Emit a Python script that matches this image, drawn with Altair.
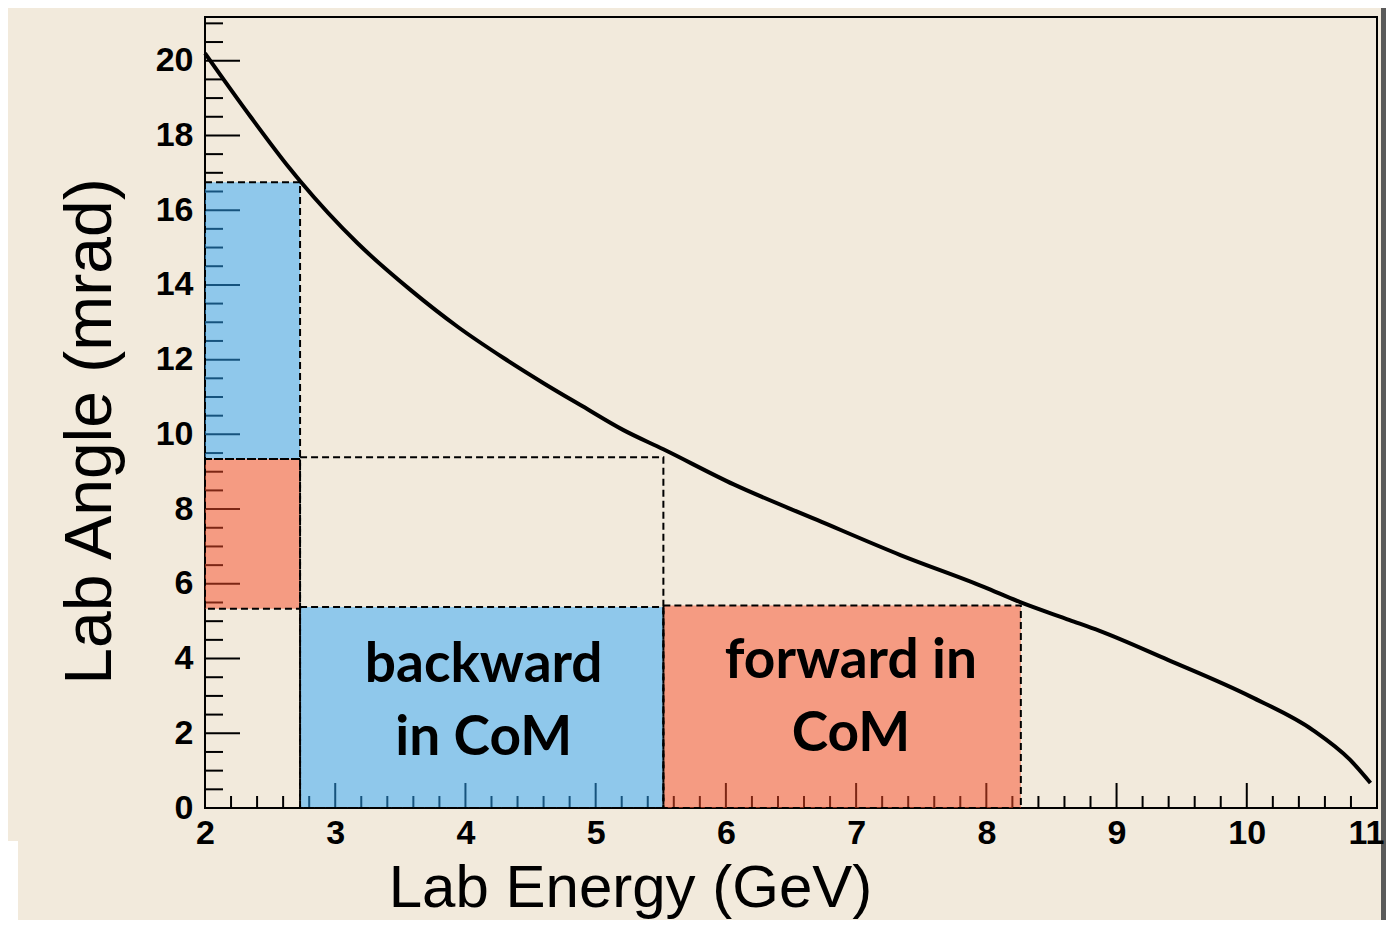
import altair as alt
import pandas as pd

# ---- curve ----
energy = [2.0, 2.35, 2.65, 2.73, 3.17, 3.58, 3.94, 4.29, 4.6, 4.9, 5.21, 5.52,
          6.06, 6.7, 7.34, 7.98, 8.26, 8.64, 8.87, 9.39, 10.03, 10.51, 10.79, 10.95]
angle = [20.2, 18.5, 17.12, 16.78, 15.12, 13.86, 12.88, 12.05, 11.37, 10.75, 10.12, 9.6,
         8.66, 7.71, 6.77, 5.92, 5.51, 5.03, 4.74, 3.97, 2.98, 2.08, 1.3, 0.67]

# ---- shaded regions ----
reg_x0 = [2.0, 2.0, 2.73, 5.52]
reg_x1 = [2.73, 2.73, 5.52, 8.265]
reg_y0 = [9.34, 5.33, 0.0, 0.0]
reg_y1 = [16.75, 9.34, 5.38, 5.42]
reg_col = ["#2CA6FA", "#F84C28", "#2CA6FA", "#F84C28"]

# dashed outline of the unfilled box
box_x0 = [2.73]
box_x1 = [5.52]
box_y0 = [0.0]
box_y1 = [9.39]

# ---- texts ----
lab_text = ["backward\nin CoM", "forward in\nCoM"]
lab_x = [4.14, 6.96]
lab_y = [3.37, 3.49]

# ---- axis ticks ----
x_major = list(range(2, 12))
x_minor = [round(2 + 0.2 * i, 1) for i in range(46) if i % 5 != 0]
y_major = list(range(0, 21, 2))
y_minor = [v / 2 for v in range(0, 43) if v % 4 != 0]

W, H = 1172, 791
XD = [2, 11]
YD = [0, 21.17]
FONT = "Liberation Sans"

xs = alt.Scale(domain=XD, nice=False, zero=False)
ys = alt.Scale(domain=YD, nice=False, zero=False)

X_AX = alt.Axis(
    values=x_major, format="d", ticks=False, domain=False, grid=False, zindex=1,
    labelFont=FONT, labelFontWeight="bold", labelFontSize=34, labelColor="black",
    labelPadding=8, labelFlush=False, labelOverlap=False, labelBound=False,
    labelOffset={"condition": {"test": "datum.value == 11", "value": -11}, "value": 0},
    title="Lab Energy (GeV)", titleFont=FONT,
    titleFontWeight="normal", titleFontSize=60, titleColor="black",
    titleX=425, titleY=98, titleAlign="center", titleBaseline="alphabetic")
Y_AX = alt.Axis(
    values=y_major, format="d", ticks=False, domain=False, grid=False,
    labelFont=FONT, labelFontWeight="bold", labelFontSize=34, labelColor="black",
    labelPadding=12, labelFlush=False, labelOverlap=False, labelBound=False,
    title="Lab Angle (mrad)", titleFont=FONT,
    titleFontWeight="normal", titleFontSize=66, titleColor="black",
    titleAngle=270, titleX=-95, titleY=414, titleAlign="center",
    titleBaseline="alphabetic")


def X(f):
    return alt.X(f, scale=xs, axis=X_AX)


def Y(f):
    return alt.Y(f, scale=ys, axis=Y_AX)


curve_df = pd.DataFrame({"E": energy, "A": angle})
reg_df = pd.DataFrame({"x0": reg_x0, "x1": reg_x1, "y0": reg_y0, "y1": reg_y1, "c": reg_col})
box_df = pd.DataFrame({"x0": reg_x0 + box_x0, "x1": reg_x1 + box_x1,
                       "y0": reg_y0 + box_y0, "y1": reg_y1 + box_y1})
lab_df = pd.DataFrame({"t": lab_text, "x": lab_x, "y": lab_y})

xmaj_df = pd.DataFrame({"v": x_major})
xmin_df = pd.DataFrame({"v": x_minor})
ymaj_df = pd.DataFrame({"v": y_major})
ymin_df = pd.DataFrame({"v": y_minor})

xtick_maj = alt.Chart(xmaj_df).mark_rule(color="black", strokeWidth=2).encode(
    x=X("v:Q"), y=alt.value(H), y2=alt.value(H - 25))
xtick_min = alt.Chart(xmin_df).mark_rule(color="black", strokeWidth=2).encode(
    x=X("v:Q"), y=alt.value(H), y2=alt.value(H - 12))
ytick_maj = alt.Chart(ymaj_df).mark_rule(color="black", strokeWidth=2).encode(
    y=Y("v:Q"), x=alt.value(0), x2=alt.value(35))
ytick_min = alt.Chart(ymin_df).mark_rule(color="black", strokeWidth=2).encode(
    y=Y("v:Q"), x=alt.value(0), x2=alt.value(18))

regions = alt.Chart(reg_df).mark_rect(fillOpacity=0.5, strokeWidth=0).encode(
    x=X("x0:Q"), x2="x1:Q", y=Y("y0:Q"), y2="y1:Q",
    fill=alt.Fill("c:N", scale=None))

outlines = alt.Chart(box_df).mark_rect(filled=False, stroke="black", strokeWidth=2,
                                       strokeDash=[7, 4]).encode(
    x=X("x0:Q"), x2="x1:Q", y=Y("y0:Q"), y2="y1:Q")

curve = alt.Chart(curve_df).mark_line(color="black", strokeWidth=4,
                                      interpolate="monotone").encode(
    x=X("E:Q"), y=Y("A:Q"))

labels = alt.Chart(lab_df).mark_text(font="Lato", fontWeight="bold", fontSize=55,
                                     lineBreak="\n", lineHeight=73, align="center",
                                     baseline="alphabetic", color="black").encode(
    x=X("x:Q"), y=Y("y:Q"), text="t:N")

# decorative edges of the original screenshot
BOT = 112
RIGHT = 9
edge_df = pd.DataFrame({"k": ["strip"]})
strip = alt.Chart(edge_df).mark_rect(color="#5a5a5a").encode(
    x=alt.value(W + 4), x2=alt.value(W + RIGHT), y=alt.value(-9), y2=alt.value(H + BOT))
corner = alt.Chart(edge_df).mark_rect(color="white").encode(
    x=alt.value(-197), x2=alt.value(-187), y=alt.value(H + 33), y2=alt.value(H + BOT))

chart = alt.layer(
    xtick_maj, xtick_min, ytick_maj, ytick_min, regions, outlines, curve, labels, strip, corner
).properties(
    width=W, height=H,
    padding={"left": 197, "top": 9, "right": RIGHT, "bottom": BOT},
    autosize=alt.AutoSizeParams(type="none"),
).configure(
    background="#F2EADC",
).configure_view(
    stroke="black", strokeWidth=2, fill=None
)

chart.save("out.html", embed_options={"renderer": "svg", "actions": False})
